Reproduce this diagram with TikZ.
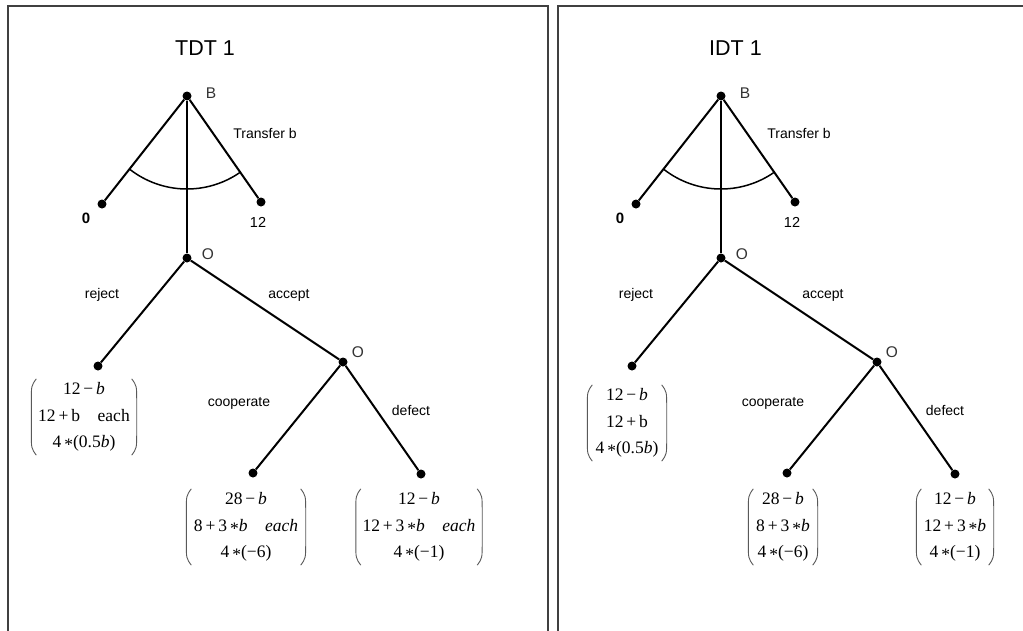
\documentclass[tikz,border=0pt]{standalone}
\usepackage{fontspec}
\setmainfont{Liberation Sans}
\newfontfamily\mfont{Liberation Serif}
\usetikzlibrary{calc}
\tikzset{
  branch/.style={line width=2pt, draw=black},
  arcline/.style={line width=1.5pt, draw=black},
  dotnode/.style={circle, fill=black, inner sep=0pt, minimum size=9pt},
  lbl/.style={font=\fontsize{14}{16}\selectfont, inner sep=0pt},
  player/.style={font=\fontsize{15.5}{17}\selectfont, inner sep=0pt, text=black!80},
  ttl/.style={font=\fontsize{21.5}{24}\selectfont, inner sep=0pt},
  payoff/.style={font=\mfont\fontsize{17.5}{26.5}\selectfont, align=center, inner sep=0pt, minimum height=76pt},
  paren/.style={line width=0.9pt, draw=black!65},
  frame/.style={line width=1.5pt, draw=black!75},
}
\newcommand\mst{\,\raisebox{-0.35ex}{*}}
\newcommand\drawparens[1]{%
  \draw[paren] ($(#1.north west)+(5,0)$) .. controls ($(#1.north west)+(0,-7)$) .. ($(#1.north west)+(0,-22)$)
     -- ($(#1.south west)+(0,22)$) .. controls ($(#1.south west)+(0,7)$) .. ($(#1.south west)+(5,0)$);
  \draw[paren] ($(#1.north east)+(-5,0)$) .. controls ($(#1.north east)+(0,-7)$) .. ($(#1.north east)+(0,-22)$)
     -- ($(#1.south east)+(0,22)$) .. controls ($(#1.south east)+(0,7)$) .. ($(#1.south east)+(-5,0)$);
}
\newcommand\gametree[3]{%
\begin{scope}[xshift=#2]
  \node[ttl, anchor=west] (#1title) at (175,-48) {#3};
  \node[dotnode] (#1B) at (187,-96) {};
  \node[dotnode] (#1L) at (102,-204) {};
  \node[dotnode] (#1R) at (261,-202) {};
  \node[dotnode] (#1O) at (187,-258) {};
  \node[dotnode] (#1rej) at (98,-366) {};
  \node[dotnode] (#1Ot) at (343,-362) {};
  \node[dotnode] (#1coop) at (253,-473) {};
  \node[dotnode] (#1def) at (421,-474) {};
  \draw[branch] (#1B) -- (#1L);
  \draw[branch] (#1B) -- (#1R);
  \draw[branch] (#1B) -- (#1O);
  \draw[branch] (#1O) -- (#1rej);
  \draw[branch] (#1O) -- (#1Ot);
  \draw[branch] (#1Ot) -- (#1coop);
  \draw[branch] (#1Ot) -- (#1def);
  \draw[arcline] ($(#1B)+(231.8:93pt)$) arc[start angle=231.8, end angle=304.9, radius=93pt];
  \node[player] (#1Blbl) at (211,-93) {B};
  \node[lbl] (#1tr) at (265,-133) {Transfer b};
  \node[lbl, font=\bfseries\fontsize{15}{16}\selectfont] (#1zero) at (86,-218) {0};
  \node[lbl, font=\fontsize{14.5}{16}\selectfont] (#1twelve) at (258,-222) {12};
  \node[player] (#1Olbl) at (208,-254) {O};
  \node[lbl] (#1rejlbl) at (102,-295) {reject};
  \node[lbl] (#1acclbl) at (289,-295) {accept};
  \node[player] (#1Otlbl) at (358,-352) {O};
  \node[lbl] (#1cooplbl) at (239,-403) {cooperate};
  \node[lbl] (#1deflbl) at (411,-410) {defect};
\end{scope}}
\begin{document}
\begin{tikzpicture}[x=1pt, y=1pt]
  \useasboundingbox (0,0) rectangle (1023,-630);
  \fill[white] (0,0) rectangle (1023,-630);
  % panel frames
  \draw[frame] (8,-632) -- (8,-6) -- (548,-6) -- (548,-632);
  \draw[frame] (558,-632) -- (558,-6) -- (1025,-6);
  % trees
  \gametree{t}{0pt}{TDT 1}
  \gametree{i}{534pt}{IDT 1}
  % payoffs, left panel
  \node[payoff, minimum width=105pt] (tm1) at (84,-417)
    {12\,−\,\textit{b}\\ 12\,+\,b\quad each\\ 4\mst(0.5\textit{b})};
  \node[payoff, minimum width=119pt] (tm2) at (246,-527)
    {28\,−\,\textit{b}\\ 8\,+\,3\mst\textit{b}\quad \textit{each}\\ 4\mst(−6)};
  \node[payoff, minimum width=126pt] (tm3) at (419,-527)
    {12\,−\,\textit{b}\\ 12\,+\,3\mst\textit{b}\quad \textit{each}\\ 4\mst(−1)};
  % payoffs, right panel
  \node[payoff, minimum width=79pt] (im1) at (627,-423)
    {12\,−\,\textit{b}\\ 12\,+\,b\\ 4\mst(0.5\textit{b})};
  \node[payoff, minimum width=69pt] (im2) at (783,-527)
    {28\,−\,\textit{b}\\ 8\,+\,3\mst\textit{b}\\ 4\mst(−6)};
  \node[payoff, minimum width=77pt] (im3) at (955,-527)
    {12\,−\,\textit{b}\\ 12\,+\,3\mst\textit{b}\\ 4\mst(−1)};
  \drawparens{tm1}
  \drawparens{tm2}
  \drawparens{tm3}
  \drawparens{im1}
  \drawparens{im2}
  \drawparens{im3}
\end{tikzpicture}
\end{document}
